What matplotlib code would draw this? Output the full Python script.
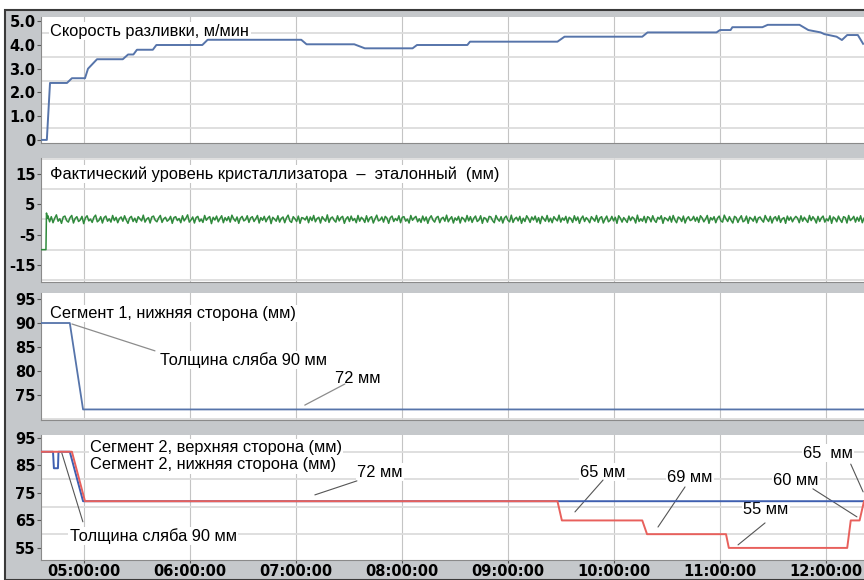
import numpy as np
import matplotlib
matplotlib.use("Agg")
import matplotlib.pyplot as plt
from matplotlib.patches import Rectangle
from matplotlib.ticker import FixedLocator, FuncFormatter, MultipleLocator


def hrs(s):
    h, m = s.split(":")
    return int(h) + float(m) / 60


# --- data ---
t_start, t_end = "04:35.7", "12:21.5"
hour_ticks = [5, 6, 7, 8, 9, 10, 11, 12]

# casting speed, m/min
speed_t = ["04:35.7", "04:39", "04:40.8", "04:50.4", "04:53.2", "05:00.6", "05:02.3", "05:07.4",
           "05:22", "05:25", "05:28", "05:30", "05:39", "05:41", "06:07", "06:10",
           "07:03", "07:06", "07:33", "07:39", "08:06", "08:08.5", "08:37", "08:38.5",
           "09:28", "09:32", "10:16", "10:19", "10:58", "11:00", "11:06", "11:07",
           "11:24", "11:27", "11:45", "11:50", "11:57", "11:59", "12:06", "12:09",
           "12:12", "12:18", "12:21"]
speed_v = [0, 0, 2.4, 2.4, 2.6, 2.6, 3.0, 3.4,
           3.4, 3.6, 3.6, 3.8, 3.8, 4.0, 4.0, 4.22,
           4.22, 4.03, 4.03, 3.86, 3.86, 4.0, 4.0, 4.14,
           4.14, 4.35, 4.35, 4.53, 4.53, 4.63, 4.63, 4.75,
           4.75, 4.85, 4.85, 4.63, 4.53, 4.46, 4.35, 4.21,
           4.42, 4.42, 4.05]

# mould level, mm (start-up part, then the noisy steady part)
level_start_t = ["04:35.7", "04:38.5", "04:38.8", "04:39.3"]
level_start_v = [-10, -10, 2.1, 0.4]
level_noise = [
    1.2, -0.8, 0.9, -1.1, 0.4, 1.5, -0.6, 0.2, -1.3, 0.8, 1.1, -0.4, -0.9, 0.6, 1.3, -1.2, 0.3, 0.9, -0.7, -0.2,
    1.0, -1.4, 0.5, 1.2, -0.5, 0.1, -1.0, 0.7, 1.4, -0.8, -0.3, 0.9, -1.2, 0.6, 1.1, -0.6, 0.2, -0.9, 1.3, -0.4,
    0.7, -1.1, 0.3, 0.8, -0.6, 1.2, -0.2, -1.3, 0.5, 1.0, -0.7, 0.4, -1.0, 0.9, 0.2, -0.5, 1.4, -0.9, 0.1, 0.6,
    -1.2, 0.8, 1.1, -0.3, -0.8, 0.5, 1.3, -1.0, 0.2, 0.7, -0.6, -0.1, 1.0, -1.3, 0.6, 0.9, -0.4, 0.3, -1.1, 1.2,
    -0.5, 0.4, 1.5, -0.9, -0.2, 0.8, -1.2, 0.6, 1.0, -0.7, 0.1, -1.0, 1.3, -0.3, 0.5, 0.9, -1.4, 0.7, -0.2, 1.1,
    -0.8, 0.3, 1.2, -1.1, 0.6, -0.4, 0.9, -0.9, 1.4, 0.2, -0.6, 0.8, -1.3, 0.4, 1.0, -0.5, -0.1, 1.2, -1.0, 0.5,
    0.9, -0.7, 0.2, 1.3, -1.2, 0.6, -0.3, 1.0, -0.8, 0.4, 1.1, -1.4, 0.7, 0.1, -0.6, 1.2, -0.9, 0.3, 0.8, -1.1,
    0.5, 1.4, -0.5, -1.0, 0.9, 0.2, -0.7, 1.1, -1.3, 0.6, 0.4, -0.2, 1.0, -1.1, 0.8, -0.4, 1.3, -0.8, 0.3, 0.7,
    -1.2, 0.9, 0.1, -0.6, 1.5, -1.0, 0.4, 0.8, -0.3, -0.9, 1.2, -0.5, 0.6, 1.0, -1.3, 0.2, 0.9, -0.7, 1.1, -0.4,
    0.3, -1.1, 1.3, -0.6, 0.7, 0.1, -1.0, 1.2, -0.8, 0.5, 0.9, -1.2, 0.2, 1.4, -0.5, -0.2, 0.8, -0.9, 1.0, 0.4,
    -1.3, 0.6, 1.1, -0.7, 0.3, -0.4, 1.2, -1.1, 0.7, 0.9, -0.6, 0.1, -1.2, 1.3, -0.3, 0.5, 1.0, -0.8, 0.2, -1.0,
    1.1, -0.5, 0.8, -1.3, 0.4, 1.2, -0.2, -0.9, 0.6, 1.0, -1.1, 0.3, 0.7, -0.6, 1.4, -0.8, 0.2, 0.9, -1.2, 0.5,
    -0.3, 1.0, -1.2, 0.7, 0.2, -0.8, 1.3, -0.5, 0.9, -1.0, 0.4, 1.1, -0.7, -0.2, 1.2, -1.3, 0.6, 0.3, -0.9, 1.0,
    0.8, -0.4, -1.1, 1.3, 0.1, -0.6, 0.9, -1.2, 0.5, 1.1, -0.3, -0.8, 1.4, -1.0, 0.2, 0.7, -0.5, 1.0, -1.3, 0.4,
    -0.7, 1.2, 0.3, -1.0, 0.8, -0.2, 1.1, -0.9, 0.6, -1.4, 1.0, 0.2, -0.6, 1.3, -0.8, 0.4, -1.1, 0.9, 0.1, -0.5,
    1.4, -0.9, 0.5, -0.3, 1.0, -1.2, 0.7, 0.2, -1.0, 1.2, -0.4, 0.8, -1.3, 0.3, 1.1, -0.7, 0.6, -0.1, -1.1, 0.9,
    0.2, -0.6, 1.3, -1.0, 0.5, 0.9, -1.2, 0.1, 1.1, -0.8, -0.3, 1.0, -0.5, 0.7, -1.3, 1.2, 0.4, -0.9, 0.6, -0.2,
    -1.0, 1.1, -0.4, 0.8, 0.3, -1.2, 1.4, -0.7, 0.2, -0.6, 1.0, -1.1, 0.9, 0.5, -0.8, 1.2, -0.3, -1.0, 0.7, 0.1,
    1.2, -1.3, 0.6, 0.2, -0.5, 1.0, -0.9, 1.3, -0.2, -1.1, 0.8, 0.4, -0.7, 1.1, -1.2, 0.3, 0.9, -0.4, -0.1, 1.0,
    -0.6, 0.7, -1.0, 1.2, 0.5, -0.8, 0.1, 1.3, -1.3, 0.6, -0.2, 0.9, -1.1, 0.4, 1.1, -0.5, -0.9, 1.4, 0.2, -0.7,
    0.9, -0.3, -1.2, 1.0, 0.6, -1.0, 0.3, 1.2, -0.8, -0.4, 1.1, -1.3, 0.7, 0.2, -0.6, 1.0, -1.1, 0.5, 0.8, -0.2,
    -0.9, 1.3, 0.1, -0.7, 1.0, -1.2, 0.4, 0.9, -0.5, 1.2, -1.0, 0.2, 0.6, -1.3, 1.1, -0.3, 0.8, -0.8, 0.3, 1.0,
    0.4, -1.1, 1.2, -0.6, 0.7, -0.2, -1.0, 1.3, -0.4, 0.9, 0.1, -1.2, 1.0, -0.7, 0.5, 1.1, -0.9, 0.2, -0.5, 1.2,
    -1.3, 0.8, 0.3, -0.8, 1.1, -0.1, -1.0, 0.9, 0.6, -1.2, 1.3, -0.4, 0.2, 1.0, -0.9, 0.7, -0.6, 1.2, -1.1, 0.4,
]

# segment 1, bottom side, mm
seg1_t = ["04:35.7", "04:52", "04:59.5", "12:21"]
seg1_v = [90, 90, 72, 72]

# segment 2, top side (blue) and bottom side (red), mm
seg2_top_t = ["04:35.7", "04:42.5", "04:43", "04:45.3", "04:45.6", "04:52", "04:59.5", "12:21.5"]
seg2_top_v = [90, 90, 84, 84, 90, 90, 72, 72]
seg2_bot_t = ["04:35.7", "04:53.2", "05:00.6", "09:28", "09:30.5", "10:16", "10:18.7",
              "11:03.4", "11:05", "12:12", "12:14", "12:19", "12:21.5"]
seg2_bot_v = [90, 90, 72, 72, 65, 65, 60, 60, 55, 55, 65, 65, 72]

# --- figure ---
W, H = 864, 580
fig = plt.figure(figsize=(W / 100, H / 100), dpi=100, facecolor="white")
fig.patches.append(Rectangle((5 / W, 0), 1, 1 - 10 / H, transform=fig.transFigure,
                             facecolor="#c5c8cb", edgecolor="#3a3a3a", lw=1.5, zorder=-10))


def box(top, bottom):
    return [41 / W, 1 - bottom / H, (W - 41) / W, (bottom - top) / H]


ax1 = fig.add_axes(box(17, 143))
ax2 = fig.add_axes(box(158, 282), sharex=ax1)
ax3 = fig.add_axes(box(293, 420), sharex=ax1)
ax4 = fig.add_axes(box(435, 560), sharex=ax1)
axes = [ax1, ax2, ax3, ax4]

tick_font = dict(family="DejaVu Sans", weight="bold", size=10.5)
txt_font = dict(family="Liberation Sans", size=11.8, zorder=2)
wbox = dict(facecolor="white", edgecolor="none", pad=1.0)

for ax in axes:
    ax.set_facecolor("white")
    for s in ["top", "right"]:
        ax.spines[s].set_visible(False)
    for s in ["left", "bottom"]:
        ax.spines[s].set_color("#8a8a8a")
        ax.spines[s].set_linewidth(0.8)
    ax.set_xlim(hrs(t_start), hrs(t_end))
    ax.xaxis.set_major_locator(FixedLocator(hour_ticks))
    ax.grid(axis="x", color="#c4c4c4", lw=0.8)
    ax.grid(axis="y", which="minor", color="#dcdcdc", lw=1.3)
    ax.tick_params(axis="y", which="major", length=3, width=0.8, color="#555555", pad=1)
    ax.tick_params(axis="y", which="minor", length=0)
    ax.tick_params(axis="x", length=2, width=0.8, color="#555555", pad=1)
    ax.set_axisbelow(True)

# panel 1: casting speed
ax1.plot([hrs(t) for t in speed_t], speed_v, color="#5674aa", lw=1.4, zorder=3)
ax1.set_ylim(-0.13, 5.18)
ax1.set_yticks([0, 1, 2, 3, 4, 5])
ax1.set_yticklabels(["0", "1.0", "2.0", "3.0", "4.0", "5.0"], **tick_font)
ax1.yaxis.set_minor_locator(MultipleLocator(0.5))
ax1.text(hrs("04:41"), 4.58, "Скорость разливки, м/мин", va="center", bbox=wbox, **txt_font)

# panel 2: mould level
noise_t = np.linspace(hrs("04:39.6"), hrs("12:21.5"), len(level_noise))
lvl_t = [hrs(t) for t in level_start_t] + list(noise_t)
lvl_v = level_start_v + level_noise
ax2.plot(lvl_t, lvl_v, color="#2f8a3c", lw=1.1, zorder=3)
ax2.set_ylim(-20.7, 20.3)
ax2.set_yticks([15, 5, -5, -15])
ax2.set_yticklabels(["15", "5", "-5", "-15"], **tick_font)
ax2.yaxis.set_minor_locator(MultipleLocator(5))
ax2.text(hrs("04:41"), 15, "Фактический уровень кристаллизатора  –  эталонный  (мм)",
         va="center", bbox=wbox, **txt_font)

# panel 3: segment 1
ax3.plot([hrs(t) for t in seg1_t], seg1_v, color="#5674aa", lw=1.3, zorder=3)
ax3.set_ylim(69.8, 96.25)
ax3.set_yticks([95, 90, 85, 80, 75])
ax3.set_yticklabels(["95", "90", "85", "80", "75"], **tick_font)
ax3.yaxis.set_minor_locator(MultipleLocator(5))
ax3.text(hrs("04:41"), 92.0, "Сегмент 1, нижняя сторона (мм)", va="center", bbox=wbox, **txt_font)
ax3.text(hrs("05:43"), 82.3, "Толщина сляба 90 мм", va="center", bbox=wbox, **txt_font)
ax3.text(hrs("07:22"), 78.5, "72 мм", va="center", bbox=wbox, **txt_font)
lead = dict(arrowstyle="-", color="#8c8c8c", lw=0.9, shrinkA=0, shrinkB=0)
ax3.annotate("", xy=(hrs("04:53.2"), 89.8), xytext=(hrs("05:40.2"), 84.2), arrowprops=lead, zorder=2.5)
ax3.annotate("", xy=(hrs("07:05"), 72.9), xytext=(hrs("07:27.7"), 77.3), arrowprops=lead, zorder=2.5)

# panel 4: segment 2
ax4.plot([hrs(t) for t in seg2_top_t], seg2_top_v, color="#3f5fb0", lw=1.4, zorder=3)
ax4.plot([hrs(t) for t in seg2_bot_t], seg2_bot_v, color="#e8605c", lw=1.4, zorder=3.1)
ax4.set_ylim(50.6, 96.1)
ax4.set_yticks([95, 85, 75, 65, 55])
ax4.set_yticklabels(["95", "85", "75", "65", "55"], **tick_font)
ax4.yaxis.set_minor_locator(MultipleLocator(5))
ax4.xaxis.set_major_formatter(FuncFormatter(lambda v, p: f"{int(round(v)):02d}:00:00"))
for lab in ax4.get_xticklabels():
    lab.set(**tick_font)
for ax in [ax1, ax2, ax3]:
    ax.tick_params(axis="x", labelbottom=False, length=0)

lead4 = dict(arrowstyle="-", color="#555555", lw=0.8, shrinkA=0, shrinkB=0)
notes4 = [
    ("Сегмент 2, верхняя сторона (мм)", "05:03.4", 91.4),
    ("Сегмент 2, нижняя сторона (мм)", "05:03.4", 85.2),
    ("72 мм", "07:34.5", 82.6),
    ("Толщина сляба 90 мм", "04:52", 59.4),
    ("65 мм", "09:40.7", 82.6),
    ("69 мм", "10:30", 80.8),
    ("55 мм", "11:13", 68.8),
    ("60 мм", "11:30", 79.4),
    ("65  мм", "11:47", 89.5),
]
for s, t, v in notes4:
    ax4.text(hrs(t), v, s, va="center", bbox=wbox, **txt_font)
leaders4 = [
    (("07:34.5", 79.4), ("07:10.7", 74.3)),
    (("04:47.5", 89.5), ("04:59.4", 64.5)),
    (("09:53.8", 79.7), ("09:37.9", 68.1)),
    (("10:40.2", 77.2), ("10:24.9", 62.6)),
    (("11:25.5", 64.1), ("11:10.2", 56.1)),
    (("11:52.6", 76.5), ("12:17.5", 66.3)),
    (("12:14", 85.5), ("12:21", 75.4)),
]
for (ta, va_), (tb, vb) in leaders4:
    ax4.annotate("", xy=(hrs(tb), vb), xytext=(hrs(ta), va_), arrowprops=lead4, zorder=2.5)

fig.savefig("out.png", dpi=100, facecolor=fig.get_facecolor())
